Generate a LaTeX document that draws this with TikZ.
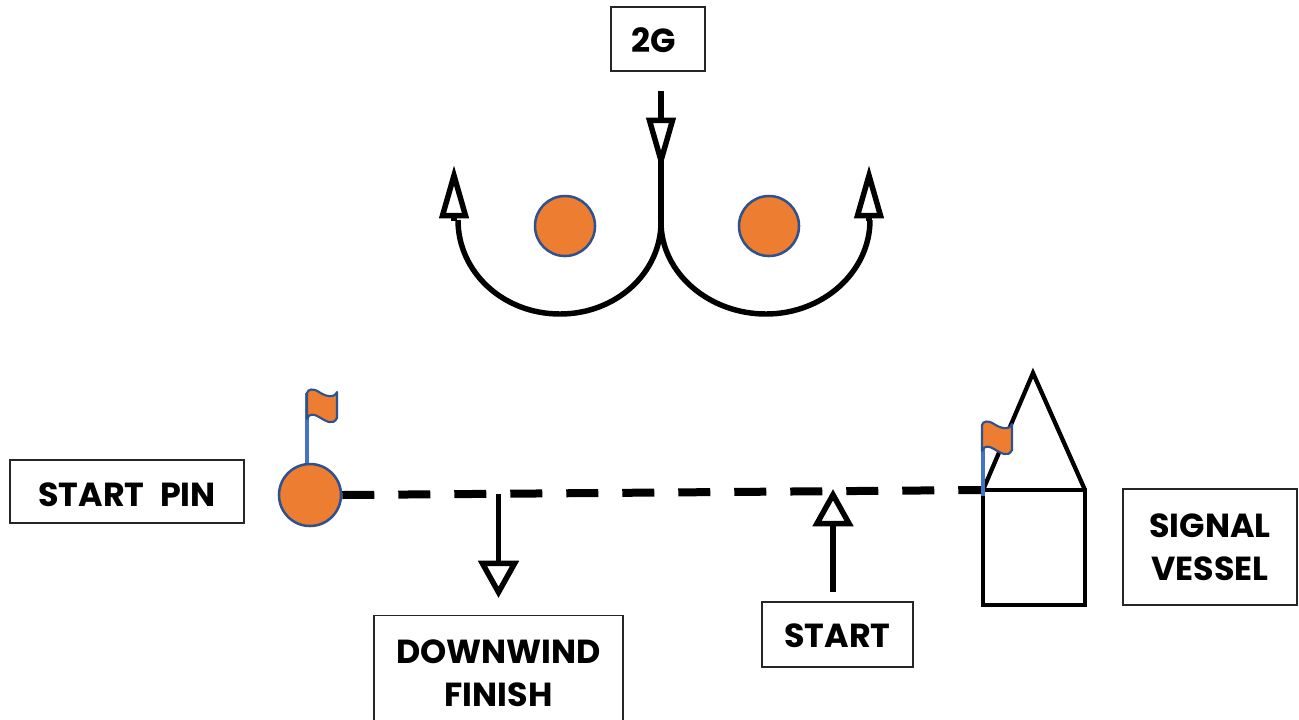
\documentclass[tikz,border=0pt]{standalone}
\usepackage{fontspec}
\setmainfont[WordSpace=2.2]{Poppins}
\usetikzlibrary{arrows.meta,positioning}

\definecolor{buoyfill}{HTML}{ED7D31}
\definecolor{buoyline}{HTML}{2F528F}
\definecolor{poleblue}{HTML}{4472C4}
\def\px{0.75pt}

\begin{document}
\begin{tikzpicture}
		[
			x=0.75pt,
			y=-0.75pt,
			align=center,
			box/.style={draw=black!85,line width=1.1pt,inner sep=0pt,font=\bfseries\fontsize{25}{32}\selectfont},
			buoy/.style={circle,draw=buoyline,line width=1.9pt,fill=buoyfill,inner sep=0pt,minimum size=60*\px},
			course/.style={line width=4.1pt},
			slimarrow/.style={course,-{Triangle[open,length=40pt,width=21.5pt]}},
			widearrow/.style={course,-{Triangle[open,length=28pt,width=30pt]}},
			vessel/.style={draw,line width=3.2pt},
			pole/.style={draw=poleblue,line width=2.6pt},
			flag/.pic={
				\draw[draw=buoyline,line width=1.6pt,fill=buoyfill,line join=round]
					(0,0) .. controls (1,-4) and (6,-5) .. (12,-1)
					.. controls (18,3) and (27,6) .. (30,-1)
					-- (30,25) .. controls (26,33) and (19,28) .. (12,24)
					.. controls (7,21) and (2,20) .. (0,26) -- cycle;
			}
		]

		\clip (0,0) rectangle (1299,719);

		% labels
		\node[box,minimum width=94*\px,minimum height=64*\px]	(wind)		at (  658,  39 ) {\kern-7pt\rule{0pt}{20.5pt}2G};
		\node[box,minimum width=234*\px,minimum height=63*\px]	(pinbox)	at (  127, 491.5 ) {\rule{0pt}{22.7pt}START PIN};
		\node[box,minimum width=249*\px,minimum height=115*\px]	(finish)	at ( 498.5, 673 ) {DOWNWIND\\FINISH};
		\node[box,minimum width=151*\px,minimum height=65*\px]	(startbox)	at ( 837.5, 634.5 ) {\rule{0pt}{19.7pt}START};
		\node[box,minimum width=174*\px,minimum height=116*\px]	(sigbox)	at ( 1210, 547 ) {SIGNAL\\VESSEL};

		% marks
		\node[buoy]	(markl)	at (  565, 226 ) {};
		\node[buoy]	(markr)	at (  769, 226 ) {};
		\node[buoy,minimum size=62*\px]	(pin)	at (  310, 495 ) {};

		% signal vessel
		\node[vessel,outer sep=0pt,minimum width=102*\px,minimum height=115*\px,inner sep=0pt]	(hull)	at ( 1034, 547.5 ) {};
		\coordinate (apex) at ( 1033, 373 );
		\draw[vessel,miter limit=10] (hull.north west) -- (apex) -- (hull.north east);

		% course points
		\coordinate (windtop)	at ( 661,  91 );
		\coordinate (windtip)	at ( 661, 171 );
		\coordinate (windneck)	at ( 661, 158 );
		\coordinate (split)		at ( 661, 222 );
		\coordinate (lefttip)	at ( 454, 165 );
		\coordinate (righttip)	at ( 869, 165 );
		\coordinate (downtop)	at ( 498.5, 494 );
		\coordinate (downtip)	at ( 498.5, 598 );
		\coordinate (starttail)	at ( 833, 592 );
		\coordinate (starttip)	at ( 833, 489 );

		% course
		\draw[slimarrow] (windtop) -- (windtip);
		\draw[course] (windneck) -- (split);
		\draw[course] (split) .. controls (661,273) and (616,314) .. (560,314)
			.. controls (503,314) and (458,272) .. (458,220);
		\draw[course] (split) .. controls (661,273) and (709,314) .. (766,314)
			.. controls (823,314) and (870,272) .. (870,220);
		\draw[slimarrow] (454,221) -- (lefttip);
		\draw[slimarrow] (869,221) -- (righttip);

		% start line
		\draw[line width=6pt,dash pattern=on 32*\px off 24*\px] (pin.east) -- (hull.north west);
		\draw[widearrow] (downtop) -- (downtip);
		\draw[widearrow] (starttail) -- (starttip);

		% flags
		\coordinate (flagl) at ( 307, 393 );
		\coordinate (flagr) at ( 982, 425 );
		\draw[pole] (pin.north -| flagl) -- (flagl);
		\draw[pole] (hull.north west) ++(0,6) -- (flagr -| hull.north west);
		\pic at (flagl) {flag};
		\pic at (flagr) {flag};

	\end{tikzpicture}
\end{document}
